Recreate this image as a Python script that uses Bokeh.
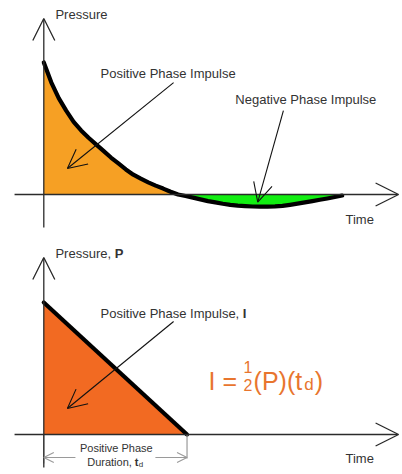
from bokeh.plotting import figure
from bokeh.layouts import column
from bokeh.models import Range1d, Arrow, OpenHead, Label
from bokeh.embed import file_html
from bokeh.resources import INLINE

# Blast-wave overpressure history (time in arbitrary units, peak = 100)
time = [0, 0.25, 0.5, 0.75, 1, 1.25, 1.5, 1.75, 2, 2.25, 2.5, 2.75, 3,
        3.25, 3.5, 3.75, 4, 4.25, 4.5, 4.75, 5, 5.25, 5.5, 5.75, 6, 6.25,
        6.5, 6.75, 7, 7.25, 7.5, 7.75, 8, 8.25, 8.5, 8.75, 9, 9.25, 9.5,
        9.75, 10]
pressure = [100, 85, 73, 63.5, 55, 48.5, 43, 38, 33, 28, 23.5, 19, 15,
            12, 9.2, 6.7, 4.5, 2.1, 0, -1.1, -2.4, -3.7, -5, -6.0, -7, -7.8,
            -8.4, -8.8, -9.1, -9.2, -9.2, -9.0, -8.6, -7.8, -6.9, -6.0, -5.0,
            -4.0, -3.0, -1.9, -0.8]

# Idealised triangular pulse
peak_pressure = 100
positive_duration = 4.8

FONT = "Liberation Sans"
INK = "#333333"
AXIS = "#2b2b2b"

# screen scale: pixels per time unit / per pressure unit
SX, SY = 29.84, 1.32


def make_panel(zero_px):
    p = figure(width=402, height=237, output_backend="svg", toolbar_location=None,
               x_range=Range1d(-43.3 / SX, (402 - 43.3) / SX),
               y_range=Range1d(-(237 - zero_px) / SY, zero_px / SY),
               x_axis_location=None, y_axis_location=None, min_border=0)
    p.grid.visible = False
    p.outline_line_color = None
    p.background_fill_color = "white"
    p.border_fill_color = "white"
    return p


def axis_arrows(p, y_top):
    p.add_layout(Arrow(x_start=0, y_start=-25, x_end=0, y_end=y_top,
                       line_color=AXIS, line_width=1.3,
                       end=OpenHead(size=22, line_color=AXIS, line_width=1.3)))
    p.add_layout(Arrow(x_start=-0.98, y_start=0, x_end=11.89, y_end=0,
                       line_color=AXIS, line_width=1.3,
                       end=OpenHead(size=23, line_color=AXIS, line_width=1.3)))


def pointer(p, x0, y0, x1, y1):
    p.add_layout(Arrow(x_start=x0, y_start=y0, x_end=x1, y_end=y1,
                       line_color="#111111", line_width=1.1,
                       end=OpenHead(size=19, line_color="#111111", line_width=1.1)))


def label(p, x, y, text, size="13px", color=INK, style="normal",
          align="left", baseline="middle"):
    p.add_layout(Label(x=x, y=y, text=text, text_font=FONT, text_font_size=size,
                       text_color=color, text_font_style=style,
                       text_align=align, text_baseline=baseline))


# ---- top panel: measured pressure history ----
top = make_panel(194)

pos_part = [max(v, 0) for v in pressure]
neg_part = [min(v, 0) for v in pressure]
top.varea(x=time, y1=0, y2=pos_part, fill_color="#F6A024")
top.varea(x=time, y1=0, y2=neg_part, fill_color="#12EE12")
axis_arrows(top, 133.3)
top.line(time, pressure, line_color="black", line_width=4.2,
         line_cap="round", line_join="round")

label(top, 0.39, 136.4, "Pressure")
label(top, 1.90, 91.8, "Positive Phase Impulse")
label(top, 6.42, 71.6, "Negative Phase Impulse")
label(top, 10.11, -18.9, "Time")
pointer(top, 4.35, 84.8, 0.79, 19.7)
pointer(top, 8.03, 63.6, 7.17, -5.8)

# ---- bottom panel: triangular idealisation ----
bot = make_panel(197)

bot.patch([0, 0, positive_duration], [0, peak_pressure, 0],
          fill_color="#F26A22", line_color=None)
axis_arrows(bot, 134.1)
bot.line([0, positive_duration], [peak_pressure, 0], line_color="black",
         line_width=4.2, line_cap="round")

label(bot, 0.39, 137.5, "Pressure, ")
label(bot, 2.376, 137.5, "P", style="bold")
label(bot, 1.90, 92.0, "Positive Phase Impulse, ")
label(bot, 6.67, 92.0, "I", style="bold")
label(bot, 10.11, -18.2, "Time")
pointer(bot, 4.35, 85.6, 0.79, 19.7)

# impulse formula  I = 1/2 (P)(t_d)
ORANGE = "#E8752E"
label(bot, 5.52, 40.9, "I =", size="25px", color=ORANGE, baseline="alphabetic")
label(bot, 6.84, 51.0, "1", size="16px", color=ORANGE, align="center",
      baseline="alphabetic")
label(bot, 6.84, 37.6, "2", size="16px", color=ORANGE, align="center",
      baseline="alphabetic")
label(bot, 7.03, 40.9, "(P)(t", size="25px", color=ORANGE, baseline="alphabetic")
label(bot, 8.73, 37.8, "d", size="17px", color=ORANGE, baseline="alphabetic")
label(bot, 9.08, 40.9, ")", size="25px", color=ORANGE, baseline="alphabetic")

# duration dimension
DIM = "#9a9a9a"
bot.segment(x0=[0, positive_duration], y0=[0, 0],
            x1=[0, positive_duration], y1=[-22, -18.2],
            line_color=DIM, line_width=1.2)
for xs, xe in ((1.06, 0), (3.74, positive_duration)):
    bot.add_layout(Arrow(x_start=xs, y_start=-17.4, x_end=xe, y_end=-17.4,
                         line_color=DIM, line_width=1.1,
                         end=OpenHead(size=10, line_color=DIM, line_width=1.1)))
label(bot, 2.43, -10.6, "Positive Phase", size="11px", align="center")
label(bot, 1.455, -20.5, "Duration, ", size="11px")
label(bot, 3.05, -20.5, "t", size="11px", style="bold")
label(bot, 3.18, -22.8, "d", size="8px")

layout = column(top, bot, spacing=0)
open("out.html", "w").write(file_html(layout, INLINE))
